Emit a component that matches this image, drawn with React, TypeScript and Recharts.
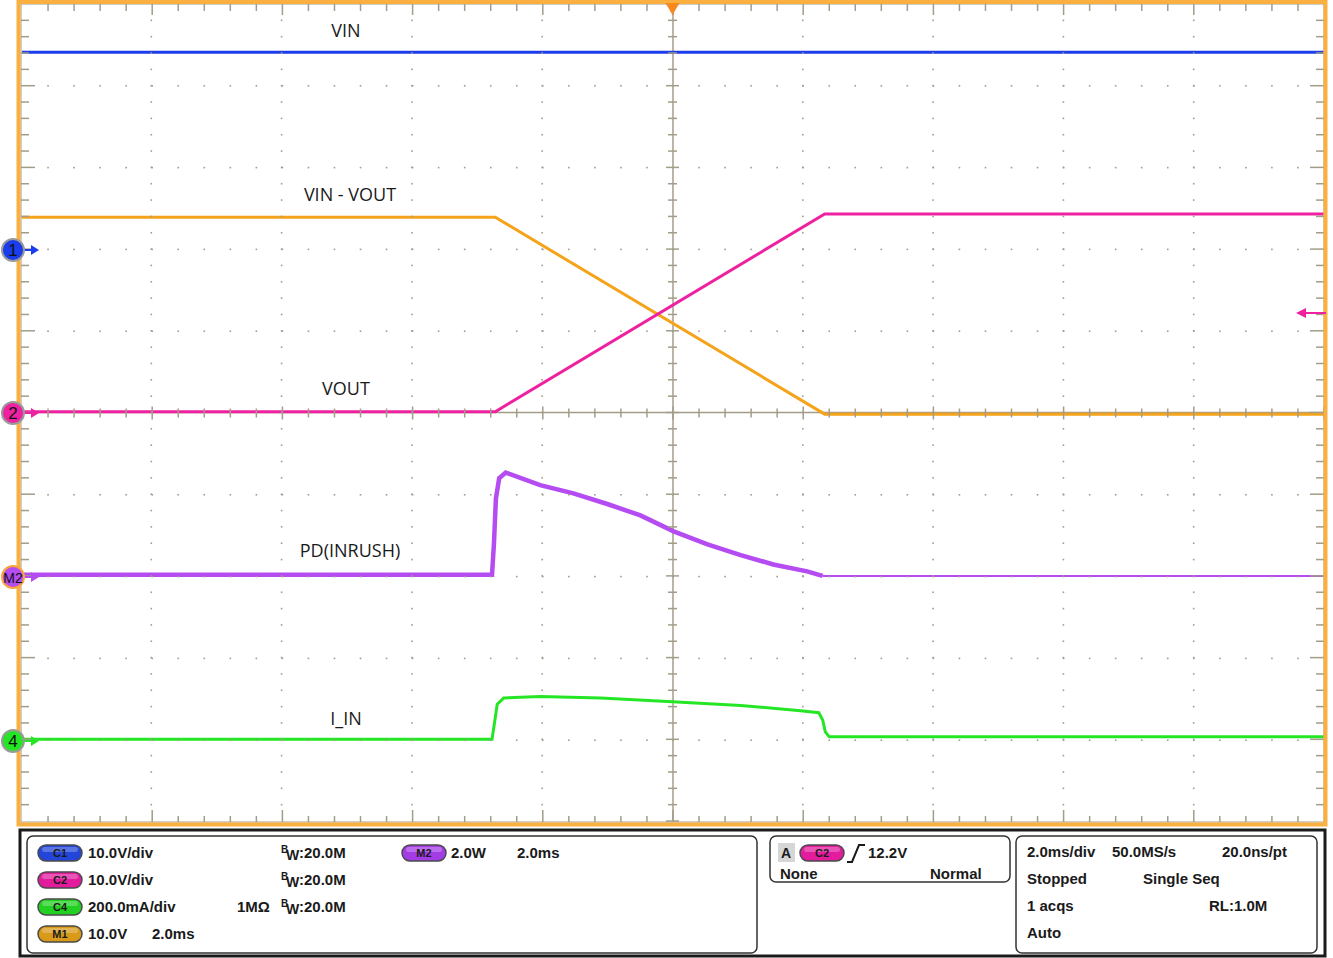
import { LineChart, Line, XAxis, YAxis, ReferenceLine } from "recharts";

// scope settings: 2.0 ms/div horizontally, trigger at centre
const xTicks = Array.from({ length: 51 }, (_, i) => Math.round((-10 + i * 0.4) * 10) / 10);
const yTicks = Array.from({ length: 51 }, (_, i) => Math.round((-5 + i * 0.2) * 10) / 10);

// per-channel volts (or W / mA) per division and ground offset in divisions
const chScale = { c1: 10, c2: 10, m1: 10, m2: 2, c4: 200 };
const chOffset = { c1: 2, c2: 0, m1: 0, m2: -2, c4: -4 };

// C1 VIN (V)
const vinT = [-10, 10];
const vinV = [24.1, 24.1];
// C2 VOUT (V)
const voutT = [-10, -2.73, 2.33, 10];
const voutV = [0.1, 0.1, 24.3, 24.3];
// M1 VIN - VOUT (V)
const diffT = [-10, -2.73, 2.33, 10];
const diffV = [23.9, 23.9, -0.2, -0.2];
// M2 PD(INRUSH) (W)
const pdT = [-10, -2.78, -2.75, -2.72, -2.67, -2.57, -2.04, -1.53, -1.01, -0.5, 0.01, 0.53, 1.04, 1.54, 2.06, 2.23, 2.3];
const pdW = [0.03, 0.03, 0.8, 1.9, 2.39, 2.53, 2.22, 2.02, 1.76, 1.48, 1.09, 0.77, 0.51, 0.28, 0.11, 0.03, 0.0];
const pdTailT = [2.3, 10];
const pdTailW = [0, 0];
// C4 I_IN (mA)
const iinT = [-10, -2.78, -2.74, -2.7, -2.6, -2.04, -1.11, -0.01, 1.04, 1.96, 2.24, 2.3, 2.34, 2.4, 10];
const iinA = [0, 0, 42, 86, 101, 105, 101, 92, 83, 70, 65, 47, 18, 6, 6];

const zip = (t: number[], v: number[]) => t.map((x, i) => ({ t: x, v: v[i] }));
const dom = (k: keyof typeof chScale): [number, number] => [
  (-5 - chOffset[k]) * chScale[k],
  (5 - chOffset[k]) * chScale[k],
];
const frame = [{ t: -10, v: 0 }, { t: 10, v: 0 }];

const W = 1333;
const CH = 830;
const M = { top: 4, right: 9, bottom: 8, left: 21 };
const PL = M.left, PR = W - M.right, PT = M.top, PB = CH - M.bottom;
const DW = (PR - PL) / 10, DH = (PB - PT) / 10;
const CX = PL + 5 * DW, CY = PT + 5 * DH;
const GRID = "#a39c88";
const majorIdx = [1, 2, 3, 4, 6, 7, 8, 9];
const isMajor = (v: number, step: number) => Math.abs(v / step - Math.round(v / step)) < 1e-6;

function XTick(props: any) {
  const { x, payload } = props;
  const major = isMajor(payload.value, 2);
  const edge = Math.abs(payload.value) > 9.99;
  return (
    <g>
      {!edge && <line x1={x} x2={x} y1={PT} y2={PT + (major ? 11 : 7)} stroke={GRID} strokeWidth={1.5} />}
      {!edge && <line x1={x} x2={x} y1={PB - (major ? 12 : 6)} y2={PB} stroke={GRID} strokeWidth={1.5} />}
      <line x1={x} x2={x} y1={CY - (major ? 6.5 : 4.5)} y2={CY + (major ? 6.5 : 4.5)} stroke={GRID} strokeWidth={1.5} />
      {!edge && majorIdx.map((k) => (
        <rect key={k} x={x - 0.8} y={PT + k * DH - 0.8} width={1.6} height={1.6} fill={GRID} />
      ))}
    </g>
  );
}

function YTick(props: any) {
  const { y, payload } = props;
  const major = isMajor(payload.value, 1);
  const edge = Math.abs(payload.value) > 4.99;
  return (
    <g>
      {!edge && <line y1={y} y2={y} x1={PL} x2={PL + (major ? 14 : 8)} stroke={GRID} strokeWidth={1.5} />}
      {!edge && <line y1={y} y2={y} x1={PR - (major ? 14 : 8)} x2={PR} stroke={GRID} strokeWidth={1.5} />}
      <line y1={y} y2={y} x1={CX - (major ? 6.5 : 4.5)} x2={CX + (major ? 6.5 : 4.5)} stroke={GRID} strokeWidth={1.5} />
      {!edge && majorIdx.map((k) => (
        <rect key={k} x={PL + k * DW - 0.8} y={y - 0.8} width={1.6} height={1.6} fill={GRID} />
      ))}
    </g>
  );
}

function Marker({ y, label, fill, ring, small }: { y: number; label: string; fill: string; ring: string; small?: boolean }) {
  return (
    <g>
      <line x1={22} x2={34} y1={y} y2={y} stroke={fill} strokeWidth={2} />
      <polygon points={`${31},${y - 5} ${39},${y} ${31},${y + 5}`} fill={fill} />
      <circle cx={13} cy={y} r={11} fill={fill} stroke={ring} strokeWidth={2} />
      <text x={13} y={y + 5.5} textAnchor="middle" fontSize={small ? 14 : 17} fill="#111" fontFamily="Liberation Sans, Arial, sans-serif">
        {label}
      </text>
    </g>
  );
}

function Pill({ x, y, label, fill }: { x: number; y: number; label: string; fill: string }) {
  return (
    <g>
      <rect x={x} y={y - 8} width={44} height={16} rx={8} fill={fill} stroke="#4a4a4a" strokeWidth={1.5} />
      <rect x={x + 4} y={y - 6} width={36} height={5} rx={2.5} fill="#fff" opacity={0.25} />
      <text x={x + 22} y={y + 4} textAnchor="middle" fontSize={11} fontWeight="bold" fill="#1a1a1a">
        {label}
      </text>
    </g>
  );
}

function Bw({ x, y }: { x: number; y: number }) {
  return (
    <g>
      <text x={x} y={y - 5} fontSize={10} fontWeight="bold">B</text>
      <text x={x + 5} y={y + 2} fontSize={14} fontWeight="bold">W</text>
      <text x={x + 18} y={y} fontSize={15} fontWeight="bold">:20.0M</text>
    </g>
  );
}

const traceLabel = { fontFamily: "'Open Sans', sans-serif", fontSize: 18, fill: "#1a1a1a", textAnchor: "middle" as const };
const panelFont = "'Liberation Sans', Arial, sans-serif";

export default function App() {
  return (
    <div style={{ position: "absolute", left: 0, top: 0, width: W, height: 958, background: "#fff" }}>
      <LineChart width={W} height={CH} margin={M}>
        <XAxis
          type="number"
          dataKey="t"
          domain={[-10, 10]}
          ticks={xTicks}
          interval={0}
          height={1}
          axisLine={false}
          tickLine={false}
          tick={(p: any) => <XTick {...p} />}
          allowDataOverflow
        />
        <YAxis
          yAxisId="grid"
          type="number"
          domain={[-5, 5]}
          ticks={yTicks}
          interval={0}
          width={1}
          axisLine={false}
          tickLine={false}
          tick={(p: any) => <YTick {...p} />}
          allowDataOverflow
        />
        <YAxis yAxisId="c1" hide domain={dom("c1")} allowDataOverflow />
        <YAxis yAxisId="c2" hide domain={dom("c2")} allowDataOverflow />
        <YAxis yAxisId="m1" hide domain={dom("m1")} allowDataOverflow />
        <YAxis yAxisId="m2" hide domain={dom("m2")} allowDataOverflow />
        <YAxis yAxisId="c4" hide domain={dom("c4")} allowDataOverflow />
        <Line yAxisId="grid" data={frame} dataKey="v" stroke="none" dot={false} isAnimationActive={false} legendType="none" />
        <ReferenceLine yAxisId="grid" x={0} stroke={GRID} strokeWidth={1.5} />
        <ReferenceLine yAxisId="grid" y={0} stroke={GRID} strokeWidth={1.5} />
        <Line yAxisId="c1" data={zip(vinT, vinV)} dataKey="v" type="linear" stroke="#1b3deb" strokeWidth={3} dot={false} isAnimationActive={false} />
        <Line yAxisId="m1" data={zip(diffT, diffV)} dataKey="v" type="linear" stroke="#f5a31a" strokeWidth={3} dot={false} isAnimationActive={false} />
        <Line yAxisId="c2" data={zip(voutT, voutV)} dataKey="v" type="linear" stroke="#ee22a0" strokeWidth={3} dot={false} isAnimationActive={false} />
        <Line yAxisId="m2" data={zip(pdT, pdW)} dataKey="v" type="linear" stroke="#b44cf2" strokeWidth={4.5} dot={false} isAnimationActive={false} />
        <Line yAxisId="m2" data={zip(pdTailT, pdTailW)} dataKey="v" type="linear" stroke="#b44cf2" strokeWidth={2} dot={false} isAnimationActive={false} />
        <Line yAxisId="c4" data={zip(iinT, iinA)} dataKey="v" type="linear" stroke="#25e625" strokeWidth={3} dot={false} isAnimationActive={false} />
      </LineChart>

      <svg width={W} height={958} style={{ position: "absolute", left: 0, top: 0, pointerEvents: "none" }}>
        <rect x={PL} y={PT} width={PR - PL} height={PB - PT} fill="none" stroke={GRID} strokeWidth={1} />
        <rect x={18.5} y={2} width={1307} height={822.5} fill="none" stroke="#f9b040" strokeWidth={4} />
        <polygon points={`${CX - 7},3 ${CX + 7},3 ${CX},15`} fill="#f7891f" />

        <text x={346} y={37} {...traceLabel}>VIN</text>
        <text x={350} y={201} {...traceLabel}>VIN - VOUT</text>
        <text x={346} y={395} {...traceLabel}>VOUT</text>
        <text x={350} y={557} {...traceLabel}>PD(INRUSH)</text>
        <text x={346} y={725} {...traceLabel}>I_IN</text>

        <Marker y={250} label="1" fill="#1b3deb" ring="#9a9a9a" />
        <Marker y={413} label="2" fill="#ee22a0" ring="#9a9a9a" />
        <Marker y={577} label="M2" fill="#b44cf2" ring="#f9a53a" small />
        <Marker y={741} label="4" fill="#25e625" ring="#9a9a9a" />
        <line x1={1304} x2={1326} y1={313} y2={313} stroke="#ee22a0" strokeWidth={2} />
        <polygon points="1296,313 1306,308 1306,318" fill="#ee22a0" />

        <g fontFamily={panelFont} fill="#1a1a1a">
          <rect x={20} y={830} width={1305} height={126} fill="none" stroke="#1a1a1a" strokeWidth={3} />
          <rect x={27} y={836} width={730} height={117} rx={6} fill="none" stroke="#333" strokeWidth={1.5} />
          <rect x={770} y={836} width={240} height={46} rx={6} fill="none" stroke="#333" strokeWidth={1.5} />
          <rect x={1016} y={836} width={301} height={117} rx={6} fill="none" stroke="#333" strokeWidth={1.5} />

          <Pill x={38} y={853} label="C1" fill="#2346d8" />
          <Pill x={38} y={880} label="C2" fill="#e21c9c" />
          <Pill x={38} y={907} label="C4" fill="#22d022" />
          <Pill x={38} y={934} label="M1" fill="#d99a1a" />
          <Pill x={402} y={853} label="M2" fill="#a43ce6" />
          <g fontSize={15} fontWeight="bold">
            <text x={88} y={858}>10.0V/div</text>
            <text x={88} y={885}>10.0V/div</text>
            <text x={88} y={912}>200.0mA/div</text>
            <text x={88} y={939}>10.0V</text>
            <text x={152} y={939}>2.0ms</text>
            <text x={237} y={912}>1MΩ</text>
            <text x={451} y={858}>2.0W</text>
            <text x={517} y={858}>2.0ms</text>
          </g>
          <Bw x={281} y={858} />
          <Bw x={281} y={885} />
          <Bw x={281} y={912} />

          <rect x={778} y={843} width={17} height={19} fill="#d6d6d6" />
          <text x={781} y={858} fontSize={14} fontWeight="bold">A</text>
          <Pill x={800} y={853} label="C2" fill="#e21c9c" />
          <path d="M847 862 L852 862 L859 845 L865 845" fill="none" stroke="#1a1a1a" strokeWidth={2} />
          <g fontSize={15} fontWeight="bold">
            <text x={868} y={858}>12.2V</text>
            <text x={780} y={879}>None</text>
            <text x={930} y={879}>Normal</text>

            <text x={1027} y={857}>2.0ms/div</text>
            <text x={1112} y={857}>50.0MS/s</text>
            <text x={1222} y={857}>20.0ns/pt</text>
            <text x={1027} y={884}>Stopped</text>
            <text x={1143} y={884}>Single Seq</text>
            <text x={1027} y={911}>1 acqs</text>
            <text x={1209} y={911}>RL:1.0M</text>
            <text x={1027} y={938}>Auto</text>
          </g>
        </g>
      </svg>
    </div>
  );
}
